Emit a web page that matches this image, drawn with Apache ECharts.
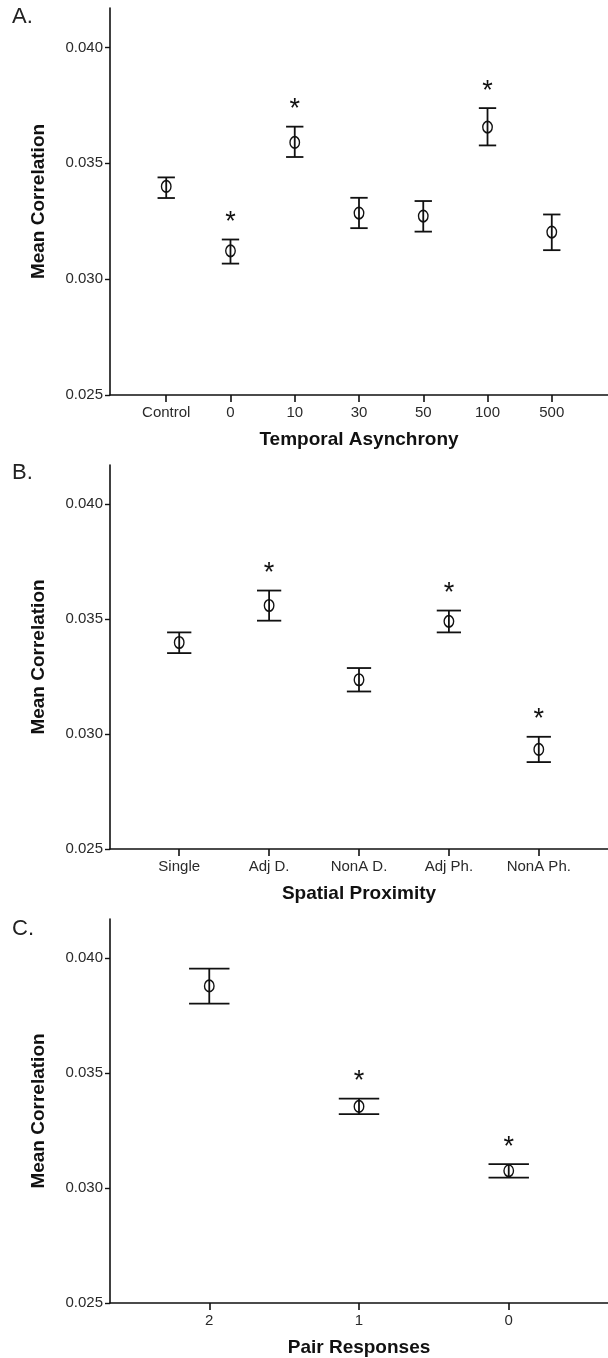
<!DOCTYPE html>
<html>
<head>
<meta charset="utf-8">
<script src="https://cdn.jsdelivr.net/npm/echarts@6/dist/echarts.min.js"></script>
<style>
  html, body { margin: 0; padding: 0; background: #fff; }
  #chart { width: 608px; height: 1358px; }
</style>
</head>
<body>
<div id="chart"></div>
<script>
// Panel A: temporal asynchrony conditions
const temporalCats = ['Control', '0', '10', '30', '50', '100', '500'];
const temporalMean = [0.03400, 0.03122, 0.03590, 0.03285, 0.03272, 0.03656, 0.03203];
const temporalLow  = [0.03350, 0.03067, 0.03527, 0.03220, 0.03205, 0.03577, 0.03125];
const temporalHigh = [0.03439, 0.03171, 0.03658, 0.03351, 0.03337, 0.03738, 0.03279];
const temporalSig  = [false, true, true, false, false, true, false];

// Panel B: spatial proximity conditions
const spatialCats = ['Single', 'Adj D.', 'NonA D.', 'Adj Ph.', 'NonA Ph.'];
const spatialMean = [0.03398, 0.03559, 0.03236, 0.03490, 0.02933];
const spatialLow  = [0.03352, 0.03493, 0.03185, 0.03442, 0.02878];
const spatialHigh = [0.03442, 0.03624, 0.03287, 0.03537, 0.02988];
const spatialSig  = [false, true, false, true, true];

// Panel C: number of pair responses
const pairCats = ['2', '1', '0'];
const pairMean = [0.03879, 0.03355, 0.03075];
const pairLow  = [0.03802, 0.03321, 0.03045];
const pairHigh = [0.03954, 0.03389, 0.03104];
const pairSig  = [false, true, true];

const yTicks = [0.025, 0.030, 0.035, 0.040];

const FONT = '"Liberation Sans", Arial, Helvetica, sans-serif';
const INK = '#111';

const panels = [
  { letter: 'A.', title: 'Temporal Asynchrony', cats: temporalCats, mean: temporalMean, low: temporalLow, high: temporalHigh, sig: temporalSig,
    pad: 0.875, top: 8, height: 387, letterY: 18 },
  { letter: 'B.', title: 'Spatial Proximity', cats: spatialCats, mean: spatialMean, low: spatialLow, high: spatialHigh, sig: spatialSig,
    pad: 0.77, top: 465, height: 384, letterY: 474 },
  { letter: 'C.', title: 'Pair Responses', cats: pairCats, mean: pairMean, low: pairLow, high: pairHigh, sig: pairSig,
    pad: 0.663, top: 919, height: 386, letterY: 930 }
];

// Error bar with caps, plus an asterisk above the bar when flagged
function renderErrorBar(params, api) {
  const x = api.value(0);
  const lo = api.coord([x, api.value(1)]);
  const hi = api.coord([x, api.value(2)]);
  const half = api.size([0.27, 0])[0] / 2;
  const line = { stroke: INK, lineWidth: 1.8 };
  const children = [
    { type: 'line', shape: { x1: lo[0], y1: lo[1], x2: hi[0], y2: hi[1] }, style: line },
    { type: 'line', shape: { x1: hi[0] - half, y1: hi[1], x2: hi[0] + half, y2: hi[1] }, style: line },
    { type: 'line', shape: { x1: lo[0] - half, y1: lo[1], x2: lo[0] + half, y2: lo[1] }, style: line }
  ];
  if (api.value(3)) {
    children.push({
      type: 'text', x: hi[0], y: hi[1] - 17,
      style: { text: '*', fill: INK, font: '27px ' + FONT, align: 'center', verticalAlign: 'middle' }
    });
  }
  return { type: 'group', children };
}

const grid = [], xAxis = [], yAxis = [], series = [], graphic = [];

panels.forEach((p, k) => {
  grid.push({ left: 110, top: p.top, width: 506, height: p.height, containLabel: false });
  const idx = p.cats.map((c, i) => i);
  xAxis.push({
    type: 'value', gridIndex: k,
    min: -p.pad, max: p.cats.length - 1 + p.pad,
    axisLine: { show: true, onZero: false, lineStyle: { color: INK, width: 1.6 } },
    axisTick: { show: true, length: 7, customValues: idx, lineStyle: { color: INK, width: 1.6 } },
    axisLabel: {
      customValues: idx, margin: 10, fontSize: 15, fontFamily: FONT, color: '#2a2a2a',
      formatter: v => p.cats[Math.round(v)]
    },
    splitLine: { show: false },
    name: p.title, nameLocation: 'middle', nameGap: 35,
    nameTextStyle: { fontSize: 19, fontWeight: 'bold', fontFamily: FONT, color: INK }
  });
  yAxis.push({
    type: 'value', gridIndex: k, min: 0.025, max: 0.0417,
    axisLine: { show: true, onZero: false, lineStyle: { color: INK, width: 1.6 } },
    axisTick: { show: true, length: 5, customValues: yTicks, lineStyle: { color: INK, width: 1.4 } },
    axisLabel: {
      customValues: yTicks, margin: 7, fontSize: 15, fontFamily: FONT, color: '#2a2a2a',
      formatter: v => v.toFixed(3)
    },
    splitLine: { show: false },
    name: 'Mean Correlation', nameLocation: 'middle', nameGap: 62, nameRotate: 90,
    nameTextStyle: { fontSize: 19, fontWeight: 'bold', fontFamily: FONT, color: INK }
  });
  series.push({
    type: 'custom', xAxisIndex: k, yAxisIndex: k,
    renderItem: renderErrorBar,
    encode: { x: 0, y: [1, 2] },
    data: p.cats.map((c, i) => [i, p.low[i], p.high[i], p.sig[i] ? 1 : 0]),
    silent: true, z: 2
  });
  series.push({
    type: 'scatter', xAxisIndex: k, yAxisIndex: k,
    symbol: 'circle', symbolSize: [9.5, 11.5],
    itemStyle: { color: 'rgba(0,0,0,0)', borderColor: INK, borderWidth: 1.5, opacity: 1 },
    data: p.cats.map((c, i) => [i, p.mean[i]]),
    silent: true, z: 3
  });
  graphic.push({
    type: 'text', left: 12, top: p.letterY - 12,
    style: { text: p.letter, font: '22px ' + FONT, fill: '#222' }
  });
});

const chart = echarts.init(document.getElementById('chart'), null, { renderer: 'canvas' });
chart.setOption({
  animation: false,
  backgroundColor: '#fff',
  grid, xAxis, yAxis, series, graphic
});
</script>
</body>
</html>
